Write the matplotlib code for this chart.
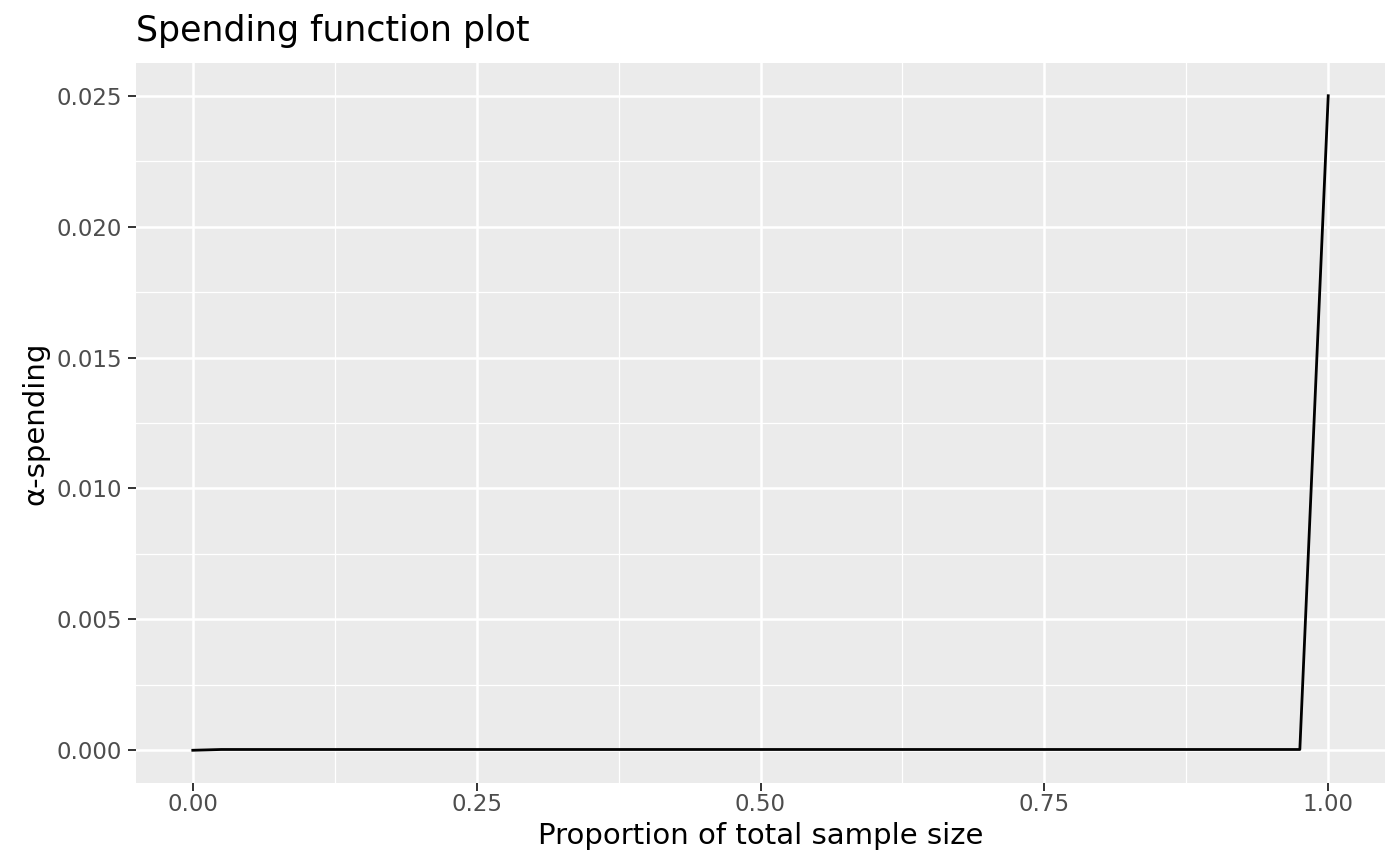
import matplotlib
matplotlib.use("Agg")
import matplotlib.pyplot as plt
from matplotlib.ticker import MultipleLocator

# spending function values
timing = [0.0, 0.025, 0.975, 1.0]
spend = [0.0, 0.00003, 0.00003, 0.025]

xticks = [0.0, 0.25, 0.50, 0.75, 1.00]
xlabels = ["0.00", "0.25", "0.50", "0.75", "1.00"]
yticks = [0.000, 0.005, 0.010, 0.015, 0.020, 0.025]
ylabels = ["0.000", "0.005", "0.010", "0.015", "0.020", "0.025"]

fig = plt.figure(figsize=(14, 8.66), dpi=100)
ax = fig.add_axes([136 / 1400, 1 - 783 / 866, (1385 - 136) / 1400, (783 - 63) / 866])
ax.set_facecolor("#EBEBEB")

ax.plot(timing, spend, color="black", lw=2.0, zorder=3)

ax.set_xlim(-0.05, 1.05)
ax.set_ylim(-0.00125, 0.02625)
ax.set_xticks(xticks)
ax.set_xticklabels(xlabels)
ax.set_yticks(yticks)
ax.set_yticklabels(ylabels)
ax.xaxis.set_minor_locator(MultipleLocator(0.125))
ax.yaxis.set_minor_locator(MultipleLocator(0.0025))

ax.grid(which="major", color="white", lw=1.8)
ax.grid(which="minor", color="white", lw=0.9)
ax.set_axisbelow(True)
for s in ax.spines.values():
    s.set_visible(False)

ax.tick_params(which="major", length=5.8, width=1.4, color="#333333",
               labelcolor="#4D4D4D", labelsize=16.5)
ax.tick_params(axis="x", pad=1.5)
ax.tick_params(axis="y", pad=4.5)
ax.tick_params(which="minor", length=0)

ax.set_xlabel("Proportion of total sample size", fontsize=21, labelpad=4)
ax.set_ylabel("\u03b1-spending", fontsize=21, labelpad=5)
ax.set_title("Spending function plot", fontsize=25, loc="left", pad=16)

fig.savefig("out.png", dpi=100)
